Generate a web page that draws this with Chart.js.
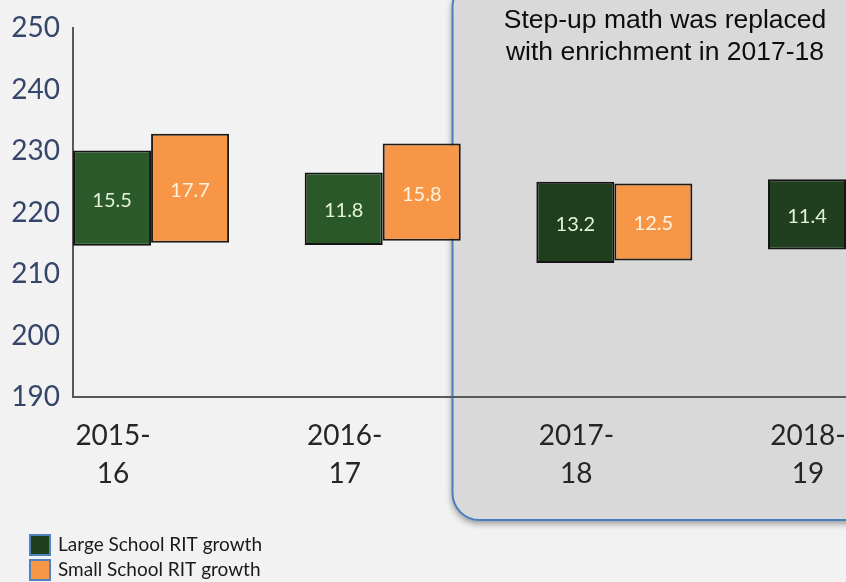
<!DOCTYPE html>
<html>
<head>
<meta charset="utf-8">
<title>RIT growth by school size</title>
<script src="https://cdn.jsdelivr.net/npm/chart.js@4/dist/chart.umd.min.js"></script>
<style>
  html, body { margin: 0; padding: 0; background: #f2f2f2; overflow: hidden; }
  #wrap { width: 846px; height: 582px; }
</style>
</head>
<body>
<div id="wrap"><canvas id="chart" width="846" height="582"></canvas></div>
<script>
// School years (shown on two lines under each group)
const seasonLines = [['2015-', '16'], ['2016-', '17'], ['2017-', '18'], ['2018-', '19']];

// Fall RIT (bar start) and fall-to-spring growth (bar length)
const largeStart  = [214.6, 214.7, 211.8, 214.0];
const largeGrowth = [15.5, 11.8, 13.2, 11.4];
const smallStart  = [215.1, 215.4, 212.2, null];
const smallGrowth = [17.7, 15.8, 12.5, null];

// Y axis ticks
const yTicks = [190, 200, 210, 220, 230, 240, 250];

const seriesNames = ['Large School RIT growth', 'Small School RIT growth'];
const calloutLines = ['Step-up math was replaced', 'with enrichment in 2017-18'];

const floating = (starts, growth) => starts
  .map((s, i) => (s === null ? null : { x: i, y: [s, +(s + growth[i]).toFixed(1)], g: growth[i] }))
  .filter(Boolean);

const greenFill = ['#2c5a2b', '#2b5828', '#1f3e1c', '#203f1e'];
const orangeFill = '#f79646';

// Rounded callout panel behind the later school years
const calloutPlugin = {
  id: 'callout',
  beforeDraw(chart) {
    const { ctx } = chart;
    const x = 452.5, y = -20, w = 460, h = 540, r = 27;
    ctx.save();
    ctx.beginPath();
    ctx.moveTo(x + r, y);
    ctx.lineTo(x + w - r, y);
    ctx.arcTo(x + w, y, x + w, y + r, r);
    ctx.lineTo(x + w, y + h - r);
    ctx.arcTo(x + w, y + h, x + w - r, y + h, r);
    ctx.lineTo(x + r, y + h);
    ctx.arcTo(x, y + h, x, y + h - r, r);
    ctx.lineTo(x, y + r);
    ctx.arcTo(x, y, x + r, y, r);
    ctx.closePath();
    ctx.shadowColor = 'rgba(0,0,0,0.35)';
    ctx.shadowBlur = 6;
    ctx.shadowOffsetX = -1;
    ctx.shadowOffsetY = 4;
    ctx.fillStyle = '#d9d9d9';
    ctx.fill();
    ctx.shadowColor = 'transparent';
    ctx.lineWidth = 2;
    ctx.strokeStyle = '#4a7ebf';
    ctx.stroke();

    ctx.fillStyle = '#0d0d0d';
    ctx.font = '26.5px "Liberation Sans", Arial, sans-serif';
    ctx.textAlign = 'center';
    ctx.textBaseline = 'alphabetic';
    ctx.fillText(calloutLines[0], 665, 28);
    ctx.fillText(calloutLines[1], 665, 60);
    ctx.restore();
  }
};

// Growth value written inside each bar
const valueLabels = {
  id: 'valueLabels',
  afterDatasetsDraw(chart) {
    const { ctx } = chart;
    ctx.save();
    ctx.font = '20px Lato, sans-serif';
    ctx.textAlign = 'center';
    ctx.textBaseline = 'middle';
    chart.data.datasets.forEach((ds, di) => {
      const meta = chart.getDatasetMeta(di);
      meta.data.forEach((bar, i) => {
        const raw = ds.data[i];
        ctx.fillStyle = di === 0 ? '#e3f2da' : '#fff3e0';
        ctx.fillText(raw.g.toFixed(1), bar.x, (bar.y + bar.base) / 2 + 2);
      });
    });
    ctx.restore();
  }
};

// Stacked legend in the bottom-left corner
const stackedLegend = {
  id: 'stackedLegend',
  afterDraw(chart) {
    const { ctx } = chart;
    ctx.save();
    ctx.font = '19px Lato, sans-serif';
    ctx.textBaseline = 'middle';
    ctx.textAlign = 'left';
    chart.data.datasets.forEach((ds, di) => {
      const top = 535 + di * 25;
      ctx.fillStyle = di === 0 ? greenFill[3] : orangeFill;
      ctx.fillRect(30, top, 20, 20);
      ctx.lineWidth = 2;
      ctx.strokeStyle = '#4f81bd';
      ctx.strokeRect(30, top, 20, 20);
      ctx.fillStyle = '#1a1a1a';
      ctx.fillText(ds.label, 58, top + 10);
    });
    ctx.restore();
  }
};

new Chart(document.getElementById('chart'), {
  type: 'bar',
  data: {
    datasets: [
      {
        label: seriesNames[0],
        data: floating(largeStart, largeGrowth),
        backgroundColor: greenFill,
        borderColor: '#141414',
        borderWidth: 2,
        borderSkipped: false
      },
      {
        label: seriesNames[1],
        data: floating(smallStart, smallGrowth),
        backgroundColor: orangeFill,
        borderColor: '#1e1a16',
        borderWidth: 2,
        borderSkipped: false
      }
    ]
  },
  options: {
    responsive: false,
    animation: false,
    categoryPercentage: 0.6736,
    barPercentage: 1,
    layout: { padding: { top: 28, right: 0, bottom: 0, left: 0 } },
    plugins: { legend: { display: false }, tooltip: { enabled: false } },
    scales: {
      x: {
        type: 'linear',
        offset: false,
        min: -0.337,
        max: 3,
        grid: { display: false, drawTicks: false, offset: false },
        border: { display: true, color: '#595959', width: 2 },
        afterBuildTicks(scale) {
          scale.ticks = seasonLines.map((_, i) => ({ value: i }));
        },
        afterFit(scale) {
          scale.height = 185;
          scale.paddingLeft = 0;
          scale.paddingRight = 0;
        },
        ticks: {
          autoSkip: false,
          maxRotation: 0,
          padding: 20,
          labelOffset: -38,
          color: '#262626',
          font: { family: 'Lato', size: 28, lineHeight: 1.36 },
          callback: (v) => seasonLines[v]
        }
      },
      y: {
        min: yTicks[0],
        max: yTicks[yTicks.length - 1],
        grid: { display: false, drawTicks: false },
        border: { display: true, color: '#595959', width: 2 },
        afterBuildTicks(scale) {
          scale.ticks = yTicks.map((v) => ({ value: v }));
        },
        afterFit(scale) {
          scale.width = 73;
          scale.paddingTop = 0;
          scale.paddingBottom = 0;
        },
        ticks: {
          padding: 13,
          color: '#36456a',
          font: { family: 'Lato', size: 28 }
        }
      }
    }
  },
  plugins: [calloutPlugin, valueLabels, stackedLegend]
});
</script>
</body>
</html>
